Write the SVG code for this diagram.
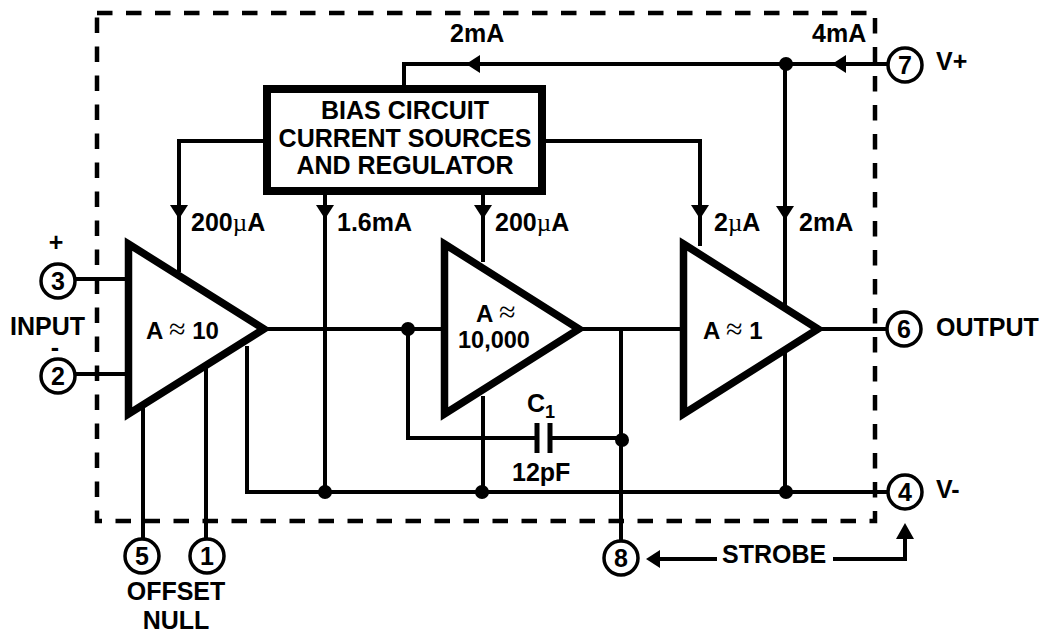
<svg xmlns="http://www.w3.org/2000/svg" width="1044" height="635" viewBox="0 0 1044 635">
<style>
text{font-family:"Liberation Sans",Arial,sans-serif;font-weight:bold;font-size:25px;fill:#000}
.m{text-anchor:middle}
.s{font-family:"Liberation Serif","DejaVu Serif",serif;font-weight:normal}
.w{fill:none;stroke:#000;stroke-width:4}
.t{fill:#fff;stroke:#000;stroke-width:7.5;stroke-miterlimit:6}
.p{fill:#fff;stroke:#000;stroke-width:3.5}
</style>
<defs>
<path id="ad" d="M-9,0H9L0,14Z" fill="#000"/>
<path id="al" d="M0,0L14,-9V9Z" fill="#000"/>
</defs>
<rect id="boundary" x="97" y="13" width="778" height="508" fill="none" stroke="#000" stroke-width="4.5" stroke-dasharray="15.5 13.5"/>
<g id="connectors">
<path class="w" d="M75 279H126M75 374H126"/>
<path class="w" d="M404 86V64H888"/>
<path class="w" d="M263 141H179V272"/>
<path class="w" d="M325 195V492"/>
<path class="w" d="M483 195V262M483 396V492"/>
<path class="w" d="M546 141H700V246"/>
<path class="w" d="M785 64V492"/>
<path class="w" d="M262 329H445M408 329V438H537M550 438H621"/>
<path class="w" d="M621 329V541M576 329H684M815 329H887"/>
<path class="w" d="M247 346V492H887"/>
<path class="w" d="M143 400V539M206 364V539"/>
<path class="w" d="M650 559H717M833 559H905V530"/>
<path d="M537 423V453M550 423V453" fill="none" stroke="#000" stroke-width="5"/>
<use href="#ad" x="179" y="205"/><use href="#ad" x="325" y="205"/><use href="#ad" x="483" y="205"/><use href="#ad" x="700" y="205"/><use href="#ad" x="785" y="206"/>
<use href="#al" x="832" y="64"/><use href="#al" x="466" y="64"/><use href="#al" x="646" y="559"/>
<path d="M896 539H914L905 523Z" fill="#000"/>
<circle cx="786" cy="64" r="7"/><circle cx="408" cy="329" r="7"/><circle cx="622" cy="440" r="7"/><circle cx="325" cy="492" r="7"/><circle cx="482" cy="492" r="7"/><circle cx="786" cy="492" r="7"/>
</g>
<g id="bias"><rect x="267" y="89" width="275" height="102" fill="#fff" stroke="#000" stroke-width="8"/>
<text class="m" x="405" y="119">BIAS CIRCUIT</text>
<text class="m" x="405" y="147">CURRENT SOURCES</text>
<text class="m" x="405" y="174">AND REGULATOR</text></g>
<g id="amp1"><path class="t" d="M128.5 244L264 329L128.5 414Z"/><text x="146" y="339" style="font-size:24px">A <tspan class="s" style="font-size:30px">≈</tspan> 10</text></g>
<g id="amp2"><path class="t" d="M444.5 244L579 329L444.5 414Z"/><text x="476" y="322" style="font-size:24px">A <tspan class="s" style="font-size:30px">≈</tspan></text><text x="458" y="348" style="font-size:23.5px">10,000</text></g>
<g id="amp3"><path class="t" d="M683.5 244L818 329L683.5 414Z"/><text x="703" y="339" style="font-size:24px">A <tspan class="s" style="font-size:30px">≈</tspan> 1</text></g>
<g id="pin3"><circle class="p" cx="58" cy="281" r="17"/><text class="m" x="58" y="290">3</text></g>
<g id="pin2"><circle class="p" cx="58" cy="376" r="17"/><text class="m" x="58" y="385">2</text></g>
<g id="pin5"><circle class="p" cx="142" cy="556" r="17"/><text class="m" x="142" y="565">5</text></g>
<g id="pin1"><circle class="p" cx="207" cy="556" r="17"/><text class="m" x="207" y="565">1</text></g>
<g id="pin8"><circle class="p" cx="621" cy="558" r="17"/><text class="m" x="621" y="567">8</text></g>
<g id="pin6"><circle class="p" cx="904" cy="329" r="17"/><text class="m" x="904" y="338">6</text></g>
<g id="pin7"><circle class="p" cx="905" cy="65" r="17"/><text class="m" x="905" y="74">7</text></g>
<g id="pin4"><circle class="p" cx="905" cy="492" r="17"/><text class="m" x="905" y="501">4</text></g>
<g id="labels">
<text x="450" y="42">2mA</text><text x="812" y="42">4mA</text><text x="936" y="70">V+</text>
<text x="191" y="231">200<tspan class="s">µ</tspan>A</text><text x="337" y="231">1.6mA</text><text x="495" y="231">200<tspan class="s">µ</tspan>A</text><text x="714" y="231">2<tspan class="s">µ</tspan>A</text><text x="799" y="231">2mA</text>
<text class="m" x="56" y="251">+</text><text x="10" y="335">INPUT</text><text class="m" x="55" y="356">-</text>
<text x="936" y="336">OUTPUT</text><text x="936" y="498">V-</text>
<text x="527" y="412">C<tspan style="font-size:18px" dy="6">1</tspan></text><text x="512" y="481">12pF</text>
<text x="722" y="563">STROBE</text>
<text class="m" x="176" y="600">OFFSET</text><text class="m" x="176" y="629">NULL</text>
</g>
</svg>
